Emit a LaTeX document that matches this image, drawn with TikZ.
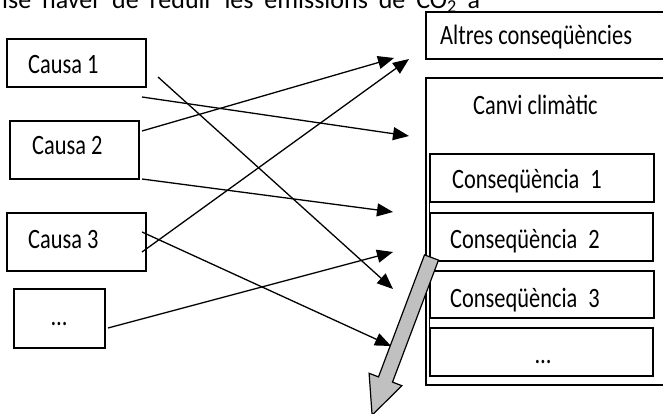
\documentclass[tikz,border=0pt]{standalone}
\usepackage{fontspec}
\setmainfont{Carlito}
\newfontfamily\condfont[FakeStretch=0.8]{Carlito}
\usetikzlibrary{arrows.meta,calc}
\definecolor{arrgray}{RGB}{192,192,192}
\begin{document}
\begin{tikzpicture}[x=1pt,y=-1pt,
  box/.style={draw=black,line width=1.4pt,inner sep=0pt},
  ibox/.style={draw=black,line width=1.2pt,inner sep=0pt},
  lbl/.style={font=\condfont\fontsize{28}{30}\selectfont,inner sep=0pt,anchor=base west},
  lblc/.style={font=\condfont\fontsize{28}{30}\selectfont,inner sep=0pt,anchor=base},
  conn/.style={line width=1.3pt,-{Triangle[length=16pt,width=13pt]}},
  ]
\useasboundingbox (0,0) rectangle (663,414);
\fill[white] (0,0) rectangle (663,414);

% cut-off line of text at the top
\node[font=\fontsize{26}{28}\selectfont,inner sep=0pt,anchor=base west] (top) at (2,9)
  {\makebox[478pt][s]{ise haver de reduir les emissions de CO\textsubscript{2} a}};

% causes
\node[box,minimum width=139pt,minimum height=48pt] (c1) at (76.5,63) {};
\node[box,minimum width=129pt,minimum height=58pt] (c2) at (74.5,150) {};
\node[box,minimum width=139pt,minimum height=58pt] (c3) at (76.5,242) {};
\node[box,minimum width=91pt,minimum height=59pt] (c4) at (59.5,318.5) {};
\node[lbl] (c1t) at (28,74) {Causa 1};
\node[lbl] (c2t) at (32,155) {Causa 2};
\node[lbl] (c3t) at (28,248) {Causa 3};
\node[lblc] (c4t) at (59,325) {…};

% consequences
\node[box,minimum width=246pt,minimum height=47pt] (alt) at (549,35.5) {};
\node[lbl] (altt) at (440,45) {Altres conseqüències};
\node[box,minimum width=246pt,minimum height=307pt] (canvi) at (549,231.5) {};
\node[lbl] (canvit) at (473,115) {Canvi climàtic};
\node[ibox,minimum width=224pt,minimum height=48pt] (q1) at (542,178) {};
\node[ibox,minimum width=223pt,minimum height=48pt] (q2) at (541.5,237) {};
\node[ibox,minimum width=224pt,minimum height=47pt] (q3) at (542,294.5) {};
\node[ibox,minimum width=223pt,minimum height=48pt] (q4) at (541.5,352) {};
\draw[line width=0.8pt] (q1.north west) -- (q4.south west);
\node[lbl] (q1t) at (452,189) {Conseqüència\hspace{11pt}1};
\node[lbl] (q2t) at (450,248) {Conseqüència\hspace{11pt}2};
\node[lbl] (q3t) at (450,307) {Conseqüència\hspace{11pt}3};
\node[lblc] (q4t) at (543,363) {…};

% connector end points
\coordinate (a1s) at (142,97);  \coordinate (a1e) at (409,136);
\coordinate (a2s) at (158,77);  \coordinate (a2e) at (393,289);
\coordinate (a3s) at (142,131); \coordinate (a3e) at (394,58);
\coordinate (a4s) at (142,179); \coordinate (a4e) at (393,212);
\coordinate (a5s) at (142,252); \coordinate (a5e) at (409,59);
\coordinate (a6s) at (142,232); \coordinate (a6e) at (391,346);
\coordinate (a7s) at (108,328); \coordinate (a7e) at (393,252);
\draw[conn] (a1s) -- (a1e);
\draw[conn] (a2s) -- (a2e);
\draw[conn] (a3s) -- (a3e);
\draw[conn] (a4s) -- (a4e);
\draw[conn] (a5s) -- (a5e);
\draw[conn] (a6s) -- (a6e);
\draw[conn] (a7s) -- (a7e);

% big gray arrow
\draw[fill=arrgray,line width=1.2pt,line join=miter]
  (424.5,254.9) -- (438.5,260.1) -- (392.5,382.1) -- (401.9,385.7)
  -- (372.1,415.1) -- (369.1,373.3) -- (378.5,376.9) -- cycle;
\end{tikzpicture}
\end{document}
